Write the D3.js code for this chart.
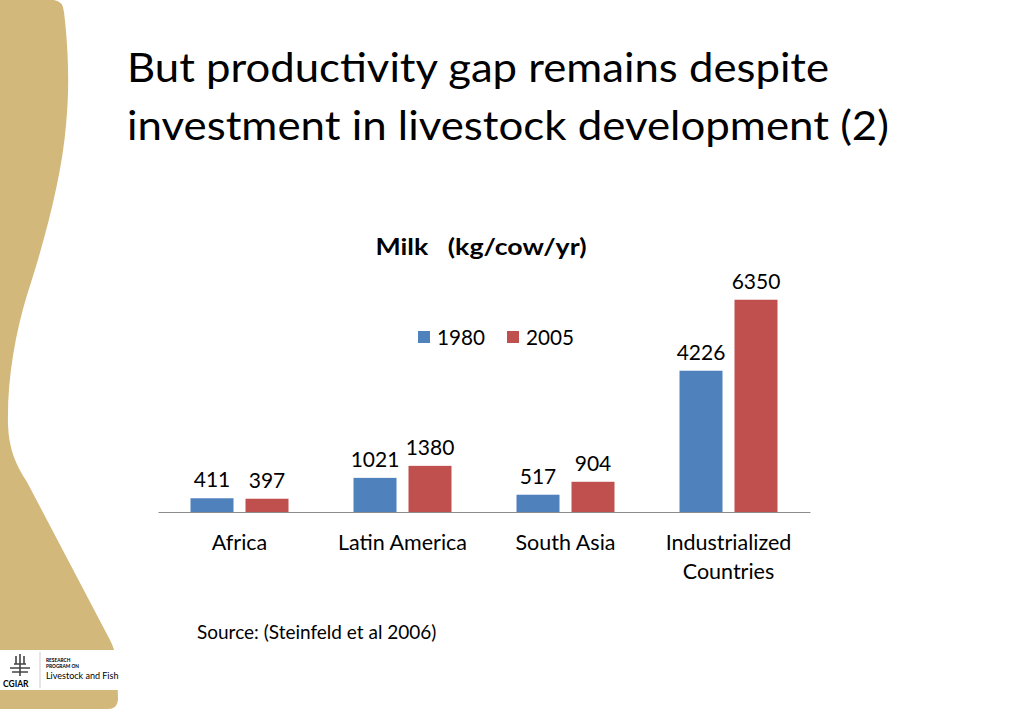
<!DOCTYPE html>
<html><head><meta charset="utf-8">
<script src="https://cdn.jsdelivr.net/npm/d3@7"></script>
<style>
html,body{margin:0;padding:0;background:#fff;}
svg{display:block;}
text{font-family:Lato,"Open Sans",sans-serif;fill:#000;}
</style></head>
<body>
<svg id="c" width="1024" height="709"></svg>
<script>
// ---- data ----
const titleLines = ["But productivity gap remains despite", "investment in livestock development (2)"];
const chartTitle = "Milk   (kg/cow/yr)";
const categories = ["Africa", "Latin America", "South Asia", "Industrialized Countries"];
const years = ["1980", "2005"];
const values1980 = [411, 1021, 517, 4226];
const values2005 = [397, 1380, 904, 6350];
const seriesColors = ["#4f81bd", "#c0504d"];
const sourceText = "Source: (Steinfeld et al 2006)";

const svg = d3.select("#c");

// decorative side band
svg.append("path")
  .attr("d", "M0,0 L54,0 Q63,1 64,12 C68,45 70,85 66,125 C62,175 45,240 27,295 C15,335 7,380 8,425 C9,450 16,465 27,482 L110,640 C113,646 115,652 117,660 L118,700 Q117,709 108,709 L0,709 Z")
  .attr("fill", "#d3b87c");

// title
titleLines.forEach((t, i) => {
  svg.append("text").attr("x", 127).attr("y", 82 + i * 58)
    .attr("font-size", 40).attr("textLength", i === 0 ? 702 : 762)
    .attr("lengthAdjust", "spacingAndGlyphs").text(t);
});

// scales
const x0 = d3.scaleBand().domain(categories).range([158, 810]).padding(0);
const x1 = d3.scaleBand().domain(years).range([0, x0.bandwidth()]).paddingInner(0.218).paddingOuter(0.591);
const y = d3.scaleLinear().domain([0, 7000]).range([512, 278]);

const rows = categories.map((c, i) => ({ cat: c, vals: [values1980[i], values2005[i]] }));

// chart title
svg.append("text").attr("x", 481).attr("y", 255).attr("text-anchor", "middle")
  .attr("font-size", 22).attr("font-weight", "bold").attr("textLength", 211)
  .attr("lengthAdjust", "spacingAndGlyphs").style("white-space", "pre").text(chartTitle);

// bars
const g = svg.append("g");
const groups = g.selectAll("g.grp").data(rows).join("g")
  .attr("transform", d => `translate(${x0(d.cat)},0)`);
groups.selectAll("rect").data(d => d.vals.map((v, j) => ({ v, yr: years[j], j })))
  .join("rect")
  .attr("x", d => x1(d.yr)).attr("width", x1.bandwidth())
  .attr("y", d => y(d.v)).attr("height", d => y(0) - y(d.v))
  .attr("fill", d => seriesColors[d.j]);
groups.selectAll("text.val").data(d => d.vals.map((v, j) => ({ v, yr: years[j], j })))
  .join("text").attr("class", "val")
  .attr("x", d => x1(d.yr) + x1.bandwidth() / 2).attr("y", d => y(d.v) - 11)
  .attr("text-anchor", "middle").attr("font-size", 21).text(d => d.v);

// axis
const ax = svg.append("g").attr("transform", "translate(0,512)")
  .call(d3.axisBottom(x0).tickSize(0).tickPadding(0));
ax.select(".domain").attr("stroke", "#8c8c8c").attr("stroke-width", 1.2);
ax.selectAll(".tick text").remove();
ax.selectAll(".tick").each(function (d) {
  const words = d.length > 15 ? d.split(" ") : [d];
  const t = d3.select(this).append("text").attr("text-anchor", "middle")
    .attr("font-size", 21.5).attr("fill", "#000").style("font-family", "Lato, 'Open Sans', sans-serif");
  words.forEach((w, i) => t.append("tspan").attr("x", 0).attr("y", 38 + i * 29).text(w));
});

// legend
const lg = svg.append("g");
const legendX = [418, 507];
years.forEach((yr, i) => {
  lg.append("rect").attr("x", legendX[i]).attr("y", 331).attr("width", 12).attr("height", 12).attr("fill", seriesColors[i]);
  lg.append("text").attr("x", legendX[i] + 19).attr("y", 344.5).attr("font-size", 20.7).text(yr);
});

// source
svg.append("text").attr("x", 197).attr("y", 639).attr("font-size", 19).text(sourceText);

// logo
const lgo = svg.append("g");
lgo.append("rect").attr("x", 0).attr("y", 650).attr("width", 119).attr("height", 40).attr("fill", "#fff");
lgo.append("line").attr("x1", 40).attr("x2", 40).attr("y1", 652).attr("y2", 688).attr("stroke", "#ccc");
lgo.append("path").attr("d", "M10,668 L30,668 M12,672 L28,672 M14,664 L26,664 M20,654 L20,676 M16,656 L16,664 M24,656 L24,664")
  .attr("stroke", "#444").attr("stroke-width", 1.6).attr("fill", "none");
lgo.append("text").attr("x", 3).attr("y", 687).attr("font-size", 8.5).attr("font-weight", "bold").attr("fill", "#333").text("CGIAR");
lgo.append("text").attr("x", 46).attr("y", 662).attr("font-size", 4.8).attr("font-weight", "bold").attr("fill", "#333").text("RESEARCH");
lgo.append("text").attr("x", 46).attr("y", 668).attr("font-size", 4.8).attr("font-weight", "bold").attr("fill", "#333").text("PROGRAM ON");
lgo.append("text").attr("x", 46).attr("y", 679).attr("font-size", 9).attr("fill", "#333").text("Livestock and Fish");
</script>
</body></html>
